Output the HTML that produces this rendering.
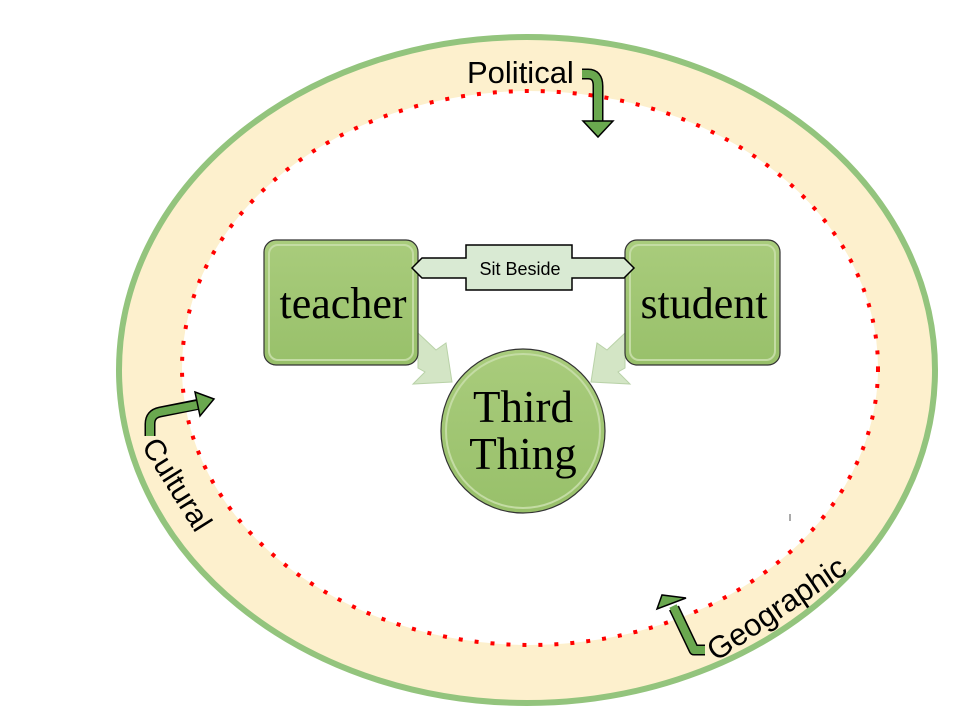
<!DOCTYPE html>
<html><head><meta charset="utf-8"><style>html,body{margin:0;padding:0;background:#fff}svg{display:block}</style></head>
<body>
<svg width="960" height="720" viewBox="0 0 960 720" xmlns="http://www.w3.org/2000/svg">
<defs>
<linearGradient id="g" x1="0" y1="0" x2="0" y2="1"><stop offset="0" stop-color="#a9cc7c"/><stop offset="1" stop-color="#98c06a"/></linearGradient>
</defs>
<ellipse cx="527" cy="370" rx="408" ry="333" fill="#fdf0cd" stroke="#93c47d" stroke-width="6"/>
<ellipse cx="530" cy="368" rx="348" ry="277" fill="#fff" stroke="#ff0000" stroke-width="4" stroke-dasharray="4,12"/>
<!-- fat arrows -->
<polygon points="418,333 436,350 446,343 452,382 413,384 425,372 418,368" fill="#d3e5c5" stroke="#b9d2a8" stroke-width="1"/>
<polygon points="625,333 607,350 597,343 591,382 630,384 618,372 625,368" fill="#d3e5c5" stroke="#b9d2a8" stroke-width="1"/>
<!-- boxes -->
<rect x="264" y="240" width="154" height="125" rx="12" fill="url(#g)" stroke="#333" stroke-width="1.2"/>
<rect x="269" y="245" width="144" height="115" rx="9" fill="none" stroke="#c4dca4" stroke-width="2"/>
<rect x="625" y="240" width="155" height="125" rx="12" fill="url(#g)" stroke="#333" stroke-width="1.2"/>
<rect x="630" y="245" width="145" height="115" rx="9" fill="none" stroke="#c4dca4" stroke-width="2"/>
<circle cx="523" cy="431" r="82" fill="url(#g)" stroke="#333" stroke-width="1.2"/>
<circle cx="523" cy="431" r="77" fill="none" stroke="#c4dca4" stroke-width="2"/>
<!-- sit beside -->
<polygon points="412,268 422,258 466,258 466,245 572,245 572,258 624,258 634,268 624,278 572,278 572,290 466,290 466,278 422,278" fill="#d9ead3" stroke="#000" stroke-width="1.5"/>
<text x="520" y="275" font-family="Liberation Sans, sans-serif" font-size="18" text-anchor="middle">Sit Beside</text>
<g font-family="Liberation Serif, DejaVu Serif, serif" text-anchor="middle" fill="#000">
<text x="343" y="318" font-size="44">teacher</text>
<text x="704" y="318" font-size="44">student</text>
<text x="523" y="422" font-size="45">Third</text>
<text x="523" y="469" font-size="45">Thing</text>
</g>
<!-- bent arrows -->
<g fill="none" stroke-linejoin="round">
<path d="M582 74 L588 74 Q598 74 598 86 L598 122" stroke="#000" stroke-width="11"/>
<path d="M582 74 L588 74 Q598 74 598 86 L598 124" stroke="#6aa84f" stroke-width="8"/>
<path d="M150 436 L150 424 Q150 414 160 412 L200 404" stroke="#000" stroke-width="11"/>
<path d="M150 436 L150 424 Q150 414 160 412 L202 404" stroke="#6aa84f" stroke-width="8"/>
<path d="M705 650 L694 650 L674 608" stroke="#000" stroke-width="11"/>
<path d="M705 650 L694 650 L673 606" stroke="#6aa84f" stroke-width="8"/>
</g>
<polygon points="583,121 613,121 598,137" fill="#6aa84f" stroke="#000" stroke-width="1.5"/>
<polygon points="195,392 214,399 200,416" fill="#6aa84f" stroke="#000" stroke-width="1.5"/>
<polygon points="657,609 662,595 686,598" fill="#6aa84f" stroke="#000" stroke-width="1.5"/>
<g font-family="Liberation Sans, sans-serif" fill="#000">
<text x="467" y="83" font-size="31">Political</text>
<text transform="translate(141,446) rotate(58)" font-size="30">Cultural</text>
<text transform="translate(716,662) rotate(-34)" font-size="31">Geographic</text>
</g>
<line x1="790" y1="514" x2="790" y2="521" stroke="#555" stroke-width="1"/>
</svg>
</body></html>
